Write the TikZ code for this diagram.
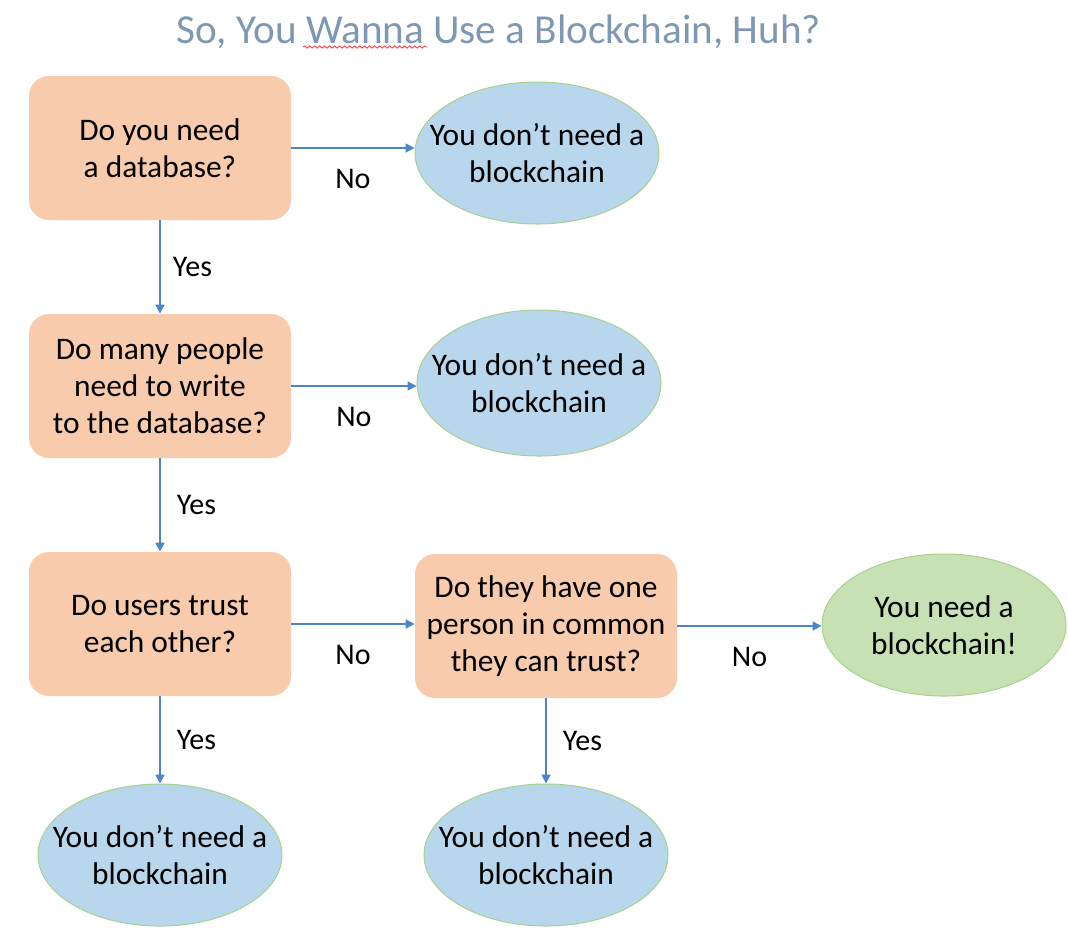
\documentclass[tikz,border=0pt]{standalone}
\usepackage{fontspec}
\setmainfont{Carlito}
\usepackage{tikz}
\usetikzlibrary{
	arrows.meta,
	positioning,
	shapes.geometric,
	decorations.pathmorphing
}
\definecolor{BoxOrange}{RGB}{248,203,173}
\definecolor{EndBlue}{RGB}{184,214,236}
\definecolor{EndGreen}{RGB}{199,225,181}
\definecolor{EdgeGreen}{RGB}{169,209,142}
\definecolor{FlowBlue}{RGB}{74,134,200}
\definecolor{TitleBlue}{RGB}{126,152,180}

\begin{document}
\begin{tikzpicture}[x=0.5pt, y=-0.5pt,
		question/.style={rectangle, rounded corners=10pt, fill=BoxOrange,
			minimum width=131pt, minimum height=72pt, align=center,
			font=\fontsize{15.7}{18.5}\selectfont},
		answer/.style={ellipse, fill=EndBlue, draw=EdgeGreen, line width=0.5pt,
			minimum width=122pt, minimum height=71pt, inner sep=0pt,
			label={[align=center, font=\fontsize{15.7}{18.5}\selectfont]center:#1}},
		flow/.style={-{Triangle[length=4.5pt,width=4.5pt]}, FlowBlue, line width=0.9pt},
		lbl/.style={inner sep=0pt, text=black, font=\fontsize{15}{18}\selectfont}]
		\useasboundingbox (0,0) rectangle (1068,928);
		\node[anchor=base, text=TitleBlue, font=\fontsize{20.6}{24}\selectfont] (title) at (499,43) {So, You Wanna Use a Blockchain, Huh?};
		\draw[red!80, line width=0.4pt, decorate, decoration={snake, amplitude=0.6pt, segment length=2.5pt}] (303,47)--(427,47);
		% questions
		\node[question] (db) at (160,148) {Do you need\\a database?};
		\node[question] (write) at (160,386) {Do many people\\need to write\\to the database?};
		\node[question] (trust) at (160,624) {Do users trust\\each other?};
		\node[question] (common) at (546,626) {Do they have one\\person in common\\they can trust?};
		% outcomes
		\node[answer={You don't need a\\blockchain}] (nodb) at (537,153) {};
		\node[answer={You don't need a\\blockchain}, minimum height=73pt] (nowrite) at (539,383) {};
		\node[answer={You need a\\blockchain!}, fill=EndGreen] (need) at (944,625) {};
		\node[answer={You don't need a\\blockchain}] (notrust) at (160,855) {};
		\node[answer={You don't need a\\blockchain}] (nocommon) at (546,855) {};
		% connectors
		\draw[flow] (db.east) -- (db.east -| nodb.west) node[lbl, midway, below=10pt] {No};
		\draw[flow] (write.east) -- (write.east -| nowrite.west) node[lbl, midway, below=10pt] {No};
		\draw[flow] (trust.east) -- (trust.east -| common.west) node[lbl, midway, below=10pt] {No};
		\draw[flow] (common.east) -- (common.east -| need.west) node[lbl, midway, below=10pt] {No};
		\draw[flow] (db.south) -- (write.north) node[lbl, midway, right=6pt] {Yes};
		\draw[flow] (write.south) -- (trust.north) node[lbl, midway, right=8pt] {Yes};
		\draw[flow] (trust.south) -- (notrust.north) node[lbl, midway, right=8pt] {Yes};
		\draw[flow] (common.south) -- (nocommon.north) node[lbl, midway, right=8pt] {Yes};
	\end{tikzpicture}
\end{document}
